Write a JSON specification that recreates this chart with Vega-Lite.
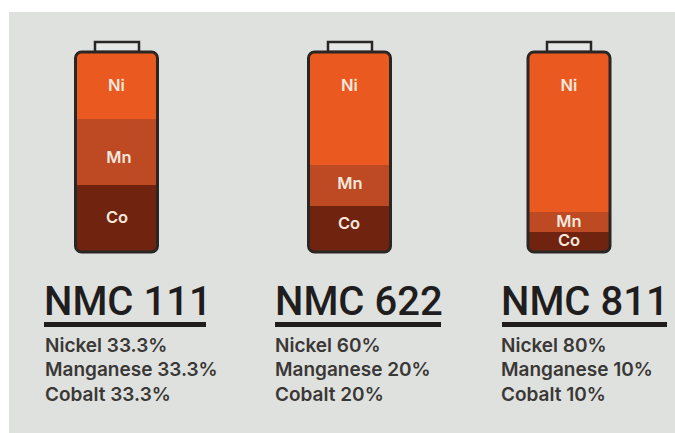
{"$schema":"https://vega.github.io/schema/vega-lite/v6.json","background":"#ffffff","padding":{"left":9,"top":12,"right":0,"bottom":0},"spacing":0,"config":{"view":{"fill":"#dfe1de","stroke":null},"axis":{"disable":true},"concat":{"spacing":0}},"datasets":{"nmc":[
{"battery":"NMC 111","metal":"Ni","share":33.5,"name":"Nickel","detail":"Nickel 33.3%"},
{"battery":"NMC 111","metal":"Mn","share":33,"name":"Manganese","detail":"Manganese 33.3%"},
{"battery":"NMC 111","metal":"Co","share":33.5,"name":"Cobalt","detail":"Cobalt 33.3%"},
{"battery":"NMC 622","metal":"Ni","share":56.5,"name":"Nickel","detail":"Nickel 60%"},
{"battery":"NMC 622","metal":"Mn","share":20.5,"name":"Manganese","detail":"Manganese 20%"},
{"battery":"NMC 622","metal":"Co","share":23,"name":"Cobalt","detail":"Cobalt 20%"},
{"battery":"NMC 811","metal":"Ni","share":80,"name":"Nickel","detail":"Nickel 80%"},
{"battery":"NMC 811","metal":"Mn","share":10,"name":"Manganese","detail":"Manganese 10%"},
{"battery":"NMC 811","metal":"Co","share":10,"name":"Cobalt","detail":"Cobalt 10%"}
]},"hconcat":[
{"width":231,"height":421,"data":{"name":"nmc"},"transform":[{"filter":"datum.battery==='NMC 111'"},{"stack":"share","groupby":["battery"],"sort":[{"field":"metal","order":"ascending"}],"as":["y0","y1"]}],"layer":[
{"transform":[{"filter":"datum.metal==='Ni'"}],"mark":{"type":"bar","fill":"#e6e8e5","stroke":"#2a2624","strokeWidth":2.5},"encoding":{"x":{"datum":86,"type":"quantitative","scale":{"domain":[0,231],"nice":false,"zero":false}},"x2":{"datum":130},"y":{"datum":100,"type":"quantitative","scale":{"domain":[-90.5,120],"nice":false,"zero":false}},"y2":{"datum":105}}},
{"transform":[{"filter":"datum.metal==='Ni'"}],"mark":{"type":"bar","fill":"#ea5920","cornerRadiusTopLeft":6,"cornerRadiusTopRight":6},"encoding":{"x":{"datum":66.5,"type":"quantitative"},"x2":{"datum":148.5},"y":{"field":"y0","type":"quantitative"},"y2":{"field":"y1"}}},
{"transform":[{"filter":"datum.metal==='Mn'"}],"mark":{"type":"bar","fill":"#bd4a22"},"encoding":{"x":{"datum":66.5,"type":"quantitative"},"x2":{"datum":148.5},"y":{"field":"y0","type":"quantitative"},"y2":{"field":"y1"}}},
{"transform":[{"filter":"datum.metal==='Co'"}],"mark":{"type":"bar","fill":"#70240f","cornerRadiusBottomLeft":6,"cornerRadiusBottomRight":6},"encoding":{"x":{"datum":66.5,"type":"quantitative"},"x2":{"datum":148.5},"y":{"field":"y0","type":"quantitative"},"y2":{"field":"y1"}}},
{"transform":[{"filter":"datum.metal==='Ni'"}],"mark":{"type":"bar","fill":null,"fillOpacity":0,"stroke":"#2a2624","strokeWidth":3,"cornerRadius":6},"encoding":{"x":{"datum":66.5,"type":"quantitative"},"x2":{"datum":148.5},"y":{"datum":0,"type":"quantitative"},"y2":{"datum":100}}},
{"transform":[{"filter":"datum.metal==='Ni'"}],"mark":{"type":"text","font":"Inter","fontSize":16.5,"fontWeight":600,"fill":"#f7e8dd"},"encoding":{"x":{"datum":107.5,"type":"quantitative"},"y":{"datum":83,"type":"quantitative"},"text":{"field":"metal"}}},
{"transform":[{"filter":"datum.metal==='Mn'"}],"mark":{"type":"text","font":"Inter","fontSize":16.5,"fontWeight":600,"fill":"#f7e8dd"},"encoding":{"x":{"datum":110,"type":"quantitative"},"y":{"datum":47,"type":"quantitative"},"text":{"field":"metal"}}},
{"transform":[{"filter":"datum.metal==='Co'"}],"mark":{"type":"text","font":"Inter","fontSize":16.5,"fontWeight":600,"fill":"#f7e8dd"},"encoding":{"x":{"datum":108,"type":"quantitative"},"y":{"datum":17,"type":"quantitative"},"text":{"field":"metal"}}},
{"transform":[{"filter":"datum.metal==='Ni'"}],"mark":{"type":"text","font":"Roboto","fontSize":40,"fontWeight":500,"fill":"#1f1d1d","align":"left","baseline":"alphabetic"},"encoding":{"x":{"datum":35,"type":"quantitative"},"y":{"datum":-31.5,"type":"quantitative"},"text":{"field":"battery"}}},
{"transform":[{"filter":"datum.metal==='Ni'"}],"mark":{"type":"bar","fill":"#1f1d1d"},"encoding":{"x":{"datum":35,"type":"quantitative"},"x2":{"datum":197},"y":{"datum":-35,"type":"quantitative"},"y2":{"datum":-37.5}}},
{"transform":[{"filter":"datum.metal==='Ni'"}],"mark":{"type":"text","font":"Inter","fontSize":19,"fontWeight":600,"fill":"#3a3836","align":"left","baseline":"alphabetic"},"encoding":{"x":{"datum":36,"type":"quantitative"},"y":{"datum":-50,"type":"quantitative"},"text":{"field":"detail"}}},
{"transform":[{"filter":"datum.metal==='Mn'"}],"mark":{"type":"text","font":"Inter","fontSize":19,"fontWeight":600,"fill":"#3a3836","align":"left","baseline":"alphabetic"},"encoding":{"x":{"datum":36,"type":"quantitative"},"y":{"datum":-62,"type":"quantitative"},"text":{"field":"detail"}}},
{"transform":[{"filter":"datum.metal==='Co'"}],"mark":{"type":"text","font":"Inter","fontSize":19,"fontWeight":600,"fill":"#3a3836","align":"left","baseline":"alphabetic"},"encoding":{"x":{"datum":36,"type":"quantitative"},"y":{"datum":-74.5,"type":"quantitative"},"text":{"field":"detail"}}}
]},
{"width":230,"height":421,"data":{"name":"nmc"},"transform":[{"filter":"datum.battery==='NMC 622'"},{"stack":"share","groupby":["battery"],"sort":[{"field":"metal","order":"ascending"}],"as":["y0","y1"]}],"layer":[
{"transform":[{"filter":"datum.metal==='Ni'"}],"mark":{"type":"bar","fill":"#e6e8e5","stroke":"#2a2624","strokeWidth":2.5},"encoding":{"x":{"datum":88,"type":"quantitative","scale":{"domain":[0,230],"nice":false,"zero":false}},"x2":{"datum":132},"y":{"datum":100,"type":"quantitative","scale":{"domain":[-90.5,120],"nice":false,"zero":false}},"y2":{"datum":105}}},
{"transform":[{"filter":"datum.metal==='Ni'"}],"mark":{"type":"bar","fill":"#ea5920","cornerRadiusTopLeft":6,"cornerRadiusTopRight":6},"encoding":{"x":{"datum":68.5,"type":"quantitative"},"x2":{"datum":150.5},"y":{"field":"y0","type":"quantitative"},"y2":{"field":"y1"}}},
{"transform":[{"filter":"datum.metal==='Mn'"}],"mark":{"type":"bar","fill":"#bd4a22"},"encoding":{"x":{"datum":68.5,"type":"quantitative"},"x2":{"datum":150.5},"y":{"field":"y0","type":"quantitative"},"y2":{"field":"y1"}}},
{"transform":[{"filter":"datum.metal==='Co'"}],"mark":{"type":"bar","fill":"#70240f","cornerRadiusBottomLeft":6,"cornerRadiusBottomRight":6},"encoding":{"x":{"datum":68.5,"type":"quantitative"},"x2":{"datum":150.5},"y":{"field":"y0","type":"quantitative"},"y2":{"field":"y1"}}},
{"transform":[{"filter":"datum.metal==='Ni'"}],"mark":{"type":"bar","fill":null,"fillOpacity":0,"stroke":"#2a2624","strokeWidth":3,"cornerRadius":6},"encoding":{"x":{"datum":68.5,"type":"quantitative"},"x2":{"datum":150.5},"y":{"datum":0,"type":"quantitative"},"y2":{"datum":100}}},
{"transform":[{"filter":"datum.metal==='Ni'"}],"mark":{"type":"text","font":"Inter","fontSize":16.5,"fontWeight":600,"fill":"#f7e8dd"},"encoding":{"x":{"datum":109.5,"type":"quantitative"},"y":{"datum":83,"type":"quantitative"},"text":{"field":"metal"}}},
{"transform":[{"filter":"datum.metal==='Mn'"}],"mark":{"type":"text","font":"Inter","fontSize":16.5,"fontWeight":600,"fill":"#f7e8dd"},"encoding":{"x":{"datum":110,"type":"quantitative"},"y":{"datum":34,"type":"quantitative"},"text":{"field":"metal"}}},
{"transform":[{"filter":"datum.metal==='Co'"}],"mark":{"type":"text","font":"Inter","fontSize":16.5,"fontWeight":600,"fill":"#f7e8dd"},"encoding":{"x":{"datum":109,"type":"quantitative"},"y":{"datum":14,"type":"quantitative"},"text":{"field":"metal"}}},
{"transform":[{"filter":"datum.metal==='Ni'"}],"mark":{"type":"text","font":"Roboto","fontSize":40,"fontWeight":500,"fill":"#1f1d1d","align":"left","baseline":"alphabetic"},"encoding":{"x":{"datum":35,"type":"quantitative"},"y":{"datum":-31.5,"type":"quantitative"},"text":{"field":"battery"}}},
{"transform":[{"filter":"datum.metal==='Ni'"}],"mark":{"type":"bar","fill":"#1f1d1d"},"encoding":{"x":{"datum":35,"type":"quantitative"},"x2":{"datum":201},"y":{"datum":-35,"type":"quantitative"},"y2":{"datum":-37.5}}},
{"transform":[{"filter":"datum.metal==='Ni'"}],"mark":{"type":"text","font":"Inter","fontSize":19,"fontWeight":600,"fill":"#3a3836","align":"left","baseline":"alphabetic"},"encoding":{"x":{"datum":35,"type":"quantitative"},"y":{"datum":-50,"type":"quantitative"},"text":{"field":"detail"}}},
{"transform":[{"filter":"datum.metal==='Mn'"}],"mark":{"type":"text","font":"Inter","fontSize":19,"fontWeight":600,"fill":"#3a3836","align":"left","baseline":"alphabetic"},"encoding":{"x":{"datum":35,"type":"quantitative"},"y":{"datum":-62,"type":"quantitative"},"text":{"field":"detail"}}},
{"transform":[{"filter":"datum.metal==='Co'"}],"mark":{"type":"text","font":"Inter","fontSize":19,"fontWeight":600,"fill":"#3a3836","align":"left","baseline":"alphabetic"},"encoding":{"x":{"datum":35,"type":"quantitative"},"y":{"datum":-74.5,"type":"quantitative"},"text":{"field":"detail"}}}
]},
{"width":205,"height":421,"data":{"name":"nmc"},"transform":[{"filter":"datum.battery==='NMC 811'"},{"stack":"share","groupby":["battery"],"sort":[{"field":"metal","order":"ascending"}],"as":["y0","y1"]}],"layer":[
{"transform":[{"filter":"datum.metal==='Ni'"}],"mark":{"type":"bar","fill":"#e6e8e5","stroke":"#2a2624","strokeWidth":2.5},"encoding":{"x":{"datum":77,"type":"quantitative","scale":{"domain":[0,205],"nice":false,"zero":false}},"x2":{"datum":121},"y":{"datum":100,"type":"quantitative","scale":{"domain":[-90.5,120],"nice":false,"zero":false}},"y2":{"datum":105}}},
{"transform":[{"filter":"datum.metal==='Ni'"}],"mark":{"type":"bar","fill":"#ea5920","cornerRadiusTopLeft":6,"cornerRadiusTopRight":6},"encoding":{"x":{"datum":58,"type":"quantitative"},"x2":{"datum":140},"y":{"field":"y0","type":"quantitative"},"y2":{"field":"y1"}}},
{"transform":[{"filter":"datum.metal==='Mn'"}],"mark":{"type":"bar","fill":"#bd4a22"},"encoding":{"x":{"datum":58,"type":"quantitative"},"x2":{"datum":140},"y":{"field":"y0","type":"quantitative"},"y2":{"field":"y1"}}},
{"transform":[{"filter":"datum.metal==='Co'"}],"mark":{"type":"bar","fill":"#70240f","cornerRadiusBottomLeft":6,"cornerRadiusBottomRight":6},"encoding":{"x":{"datum":58,"type":"quantitative"},"x2":{"datum":140},"y":{"field":"y0","type":"quantitative"},"y2":{"field":"y1"}}},
{"transform":[{"filter":"datum.metal==='Ni'"}],"mark":{"type":"bar","fill":null,"fillOpacity":0,"stroke":"#2a2624","strokeWidth":3,"cornerRadius":6},"encoding":{"x":{"datum":58,"type":"quantitative"},"x2":{"datum":140},"y":{"datum":0,"type":"quantitative"},"y2":{"datum":100}}},
{"transform":[{"filter":"datum.metal==='Ni'"}],"mark":{"type":"text","font":"Inter","fontSize":16.5,"fontWeight":600,"fill":"#f7e8dd"},"encoding":{"x":{"datum":99,"type":"quantitative"},"y":{"datum":83,"type":"quantitative"},"text":{"field":"metal"}}},
{"transform":[{"filter":"datum.metal==='Mn'"}],"mark":{"type":"text","font":"Inter","fontSize":16.5,"fontWeight":600,"fill":"#f7e8dd"},"encoding":{"x":{"datum":99,"type":"quantitative"},"y":{"datum":15,"type":"quantitative"},"text":{"field":"metal"}}},
{"transform":[{"filter":"datum.metal==='Co'"}],"mark":{"type":"text","font":"Inter","fontSize":16.5,"fontWeight":600,"fill":"#f7e8dd"},"encoding":{"x":{"datum":99,"type":"quantitative"},"y":{"datum":5.5,"type":"quantitative"},"text":{"field":"metal"}}},
{"transform":[{"filter":"datum.metal==='Ni'"}],"mark":{"type":"text","font":"Roboto","fontSize":40,"fontWeight":500,"fill":"#1f1d1d","align":"left","baseline":"alphabetic"},"encoding":{"x":{"datum":31,"type":"quantitative"},"y":{"datum":-31.5,"type":"quantitative"},"text":{"field":"battery"}}},
{"transform":[{"filter":"datum.metal==='Ni'"}],"mark":{"type":"bar","fill":"#1f1d1d"},"encoding":{"x":{"datum":32,"type":"quantitative"},"x2":{"datum":197},"y":{"datum":-35,"type":"quantitative"},"y2":{"datum":-37.5}}},
{"transform":[{"filter":"datum.metal==='Ni'"}],"mark":{"type":"text","font":"Inter","fontSize":19,"fontWeight":600,"fill":"#3a3836","align":"left","baseline":"alphabetic"},"encoding":{"x":{"datum":31,"type":"quantitative"},"y":{"datum":-50,"type":"quantitative"},"text":{"field":"detail"}}},
{"transform":[{"filter":"datum.metal==='Mn'"}],"mark":{"type":"text","font":"Inter","fontSize":19,"fontWeight":600,"fill":"#3a3836","align":"left","baseline":"alphabetic"},"encoding":{"x":{"datum":31,"type":"quantitative"},"y":{"datum":-62,"type":"quantitative"},"text":{"field":"detail"}}},
{"transform":[{"filter":"datum.metal==='Co'"}],"mark":{"type":"text","font":"Inter","fontSize":19,"fontWeight":600,"fill":"#3a3836","align":"left","baseline":"alphabetic"},"encoding":{"x":{"datum":31,"type":"quantitative"},"y":{"datum":-74.5,"type":"quantitative"},"text":{"field":"detail"}}}
]}
]}
